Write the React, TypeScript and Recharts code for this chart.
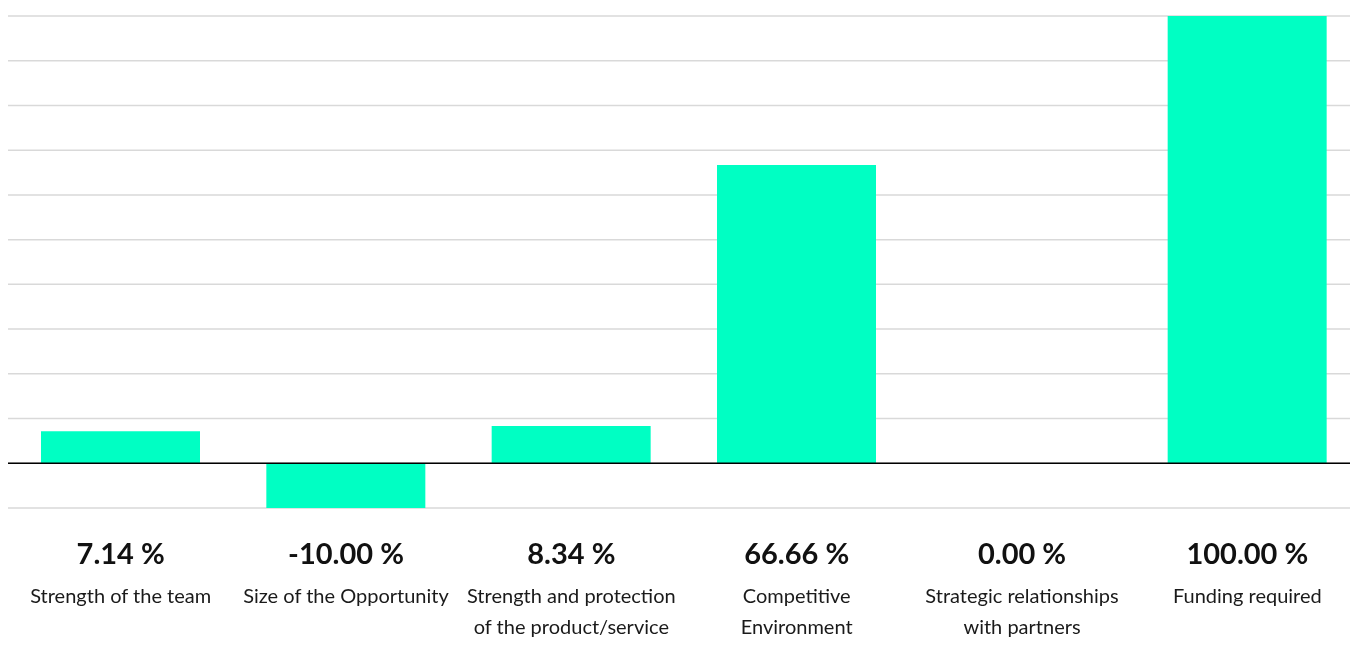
import React from "react"
import { BarChart, Bar, XAxis, YAxis, CartesianGrid, ReferenceLine } from "recharts"

const categories = [
  "Strength of the team",
  "Size of the Opportunity",
  "Strength and protection of the product/service",
  "Competitive Environment",
  "Strategic relationships with partners",
  "Funding required",
]

const values = [7.14, -10.0, 8.34, 66.66, 0.0, 100.0]

// wrapped tick labels as shown under each bar
const labelLines = [
  ["Strength of the team"],
  ["Size of the Opportunity"],
  ["Strength and protection", "of the product/service"],
  ["Competitive", "Environment"],
  ["Strategic relationships", "with partners"],
  ["Funding required"],
]

const yTicks = [-10, 0, 10, 20, 30, 40, 50, 60, 70, 80, 90, 100]

const data = categories.map((name, i) => ({ name, value: values[i] }))

const FONT = "Lato, 'Open Sans', sans-serif"

const CustomTick = ({ x, y, payload }: any) => {
  const i = payload.index
  const lines = labelLines[i] || [payload.value]
  return (
    <g transform={`translate(${x},${y})`}>
      <text
        x={0}
        y={48}
        textAnchor="middle"
        fill="#111"
        style={{ fontFamily: FONT, fontSize: 29, fontWeight: 700 }}
      >
        {`${values[i].toFixed(2)} %`}
      </text>
      {lines.map((line, k) => (
        <text
          key={k}
          x={0}
          y={87 + k * 31}
          textAnchor="middle"
          fill="#1a1a1a"
          style={{ fontFamily: FONT, fontSize: 20 }}
        >
          {line}
        </text>
      ))}
    </g>
  )
}

export default function App() {
  return (
    <div style={{ position: "fixed", left: 8, top: 8, width: 1352, height: 643 }}>
      <BarChart
        width={1352}
        height={643}
        data={data}
        margin={{ top: 8, right: 0, left: 0, bottom: 0 }}
        barSize={159}
      >
        <CartesianGrid vertical={false} stroke="#d9d9d9" strokeWidth={1.5} />
        <XAxis
          dataKey="name"
          axisLine={false}
          tickLine={false}
          interval={0}
          height={143}
          tick={<CustomTick />}
        />
        <YAxis hide domain={[-10, 100]} ticks={yTicks} />
        <ReferenceLine y={0} stroke="#000" strokeWidth={1.5} />
        <Bar dataKey="value" fill="#00ffc3" isAnimationActive={false} />
      </BarChart>
    </div>
  )
}
